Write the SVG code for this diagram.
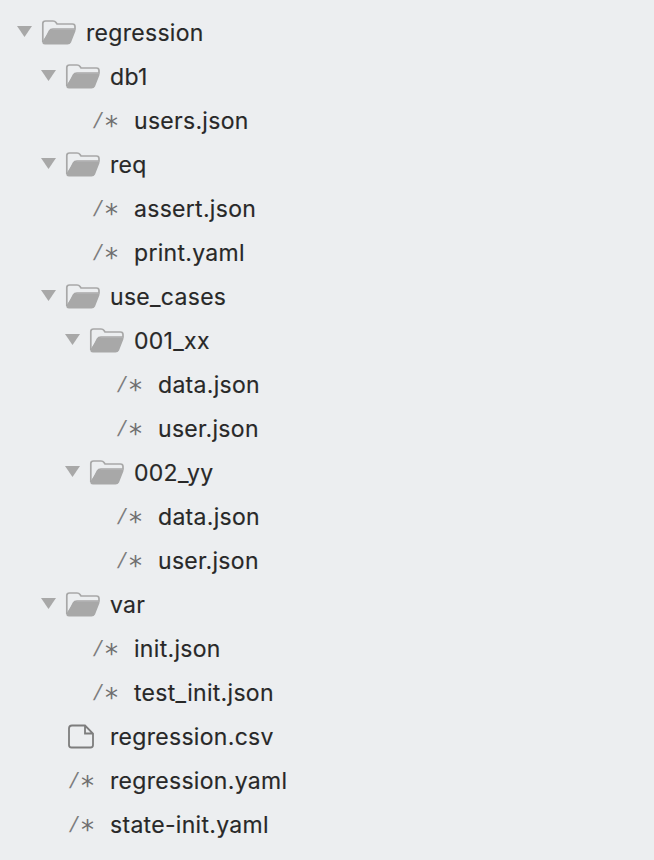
<svg xmlns="http://www.w3.org/2000/svg" xmlns:xlink="http://www.w3.org/1999/xlink" width="654" height="860" viewBox="0 0 654 860">
<style>
.t{font-family:"Inter","Roboto","Liberation Sans",sans-serif;font-size:23px;fill:#282828;letter-spacing:0.3px;stroke:#282828;stroke-width:0.15px}
.s{font-family:"Liberation Sans",sans-serif;font-size:22px;fill:#7d7d7d}
.c{font-family:"DejaVu Sans",sans-serif;font-size:26px;fill:#6f6f6f}
.tri{fill:#a8a8a8}
</style>
<defs>
<g id="folder">
<path d="M0.8 22V3.5Q0.8 1 3.5 1H11Q13 1 14 2.5L15 4H30.5Q33 4 33 6.5V9H11Q8.5 9 7.5 11L2.5 21" fill="none" stroke="#a8a8a8" stroke-width="1.7"/>
<path d="M9.5 9.5H33.5L33.5 11L29 22.5Q28 24.5 25.5 24.500H3Q0.3 24.500 0.3 22L2 19L7.500 11Q8.200 9.500 9.500 9.500Z" fill="#a8a8a8"/>
</g>
<path id="arrow" class="tri" d="M0 0H15L7.5 11Z"/>
<g id="star"><text class="s" transform="translate(-1 15) skewX(-14)">/</text><text class="c" x="11" y="22">*</text></g>
</defs>
<rect width="654" height="860" fill="#eceef0"/>
<g id="connectors"/>
<g id="n-regression"><use xlink:href="#arrow" x="17" y="26"/><use xlink:href="#folder" x="42" y="20"/><text class="t" x="86" y="41">regression</text></g>
<g id="n-db1"><use xlink:href="#arrow" x="41" y="70"/><use xlink:href="#folder" x="66" y="64"/><text class="t" x="110" y="85">db1</text></g>
<g id="n-users"><use xlink:href="#star" x="94" y="113"/><text class="t" x="134" y="129">users.json</text></g>
<g id="n-req"><use xlink:href="#arrow" x="41" y="158"/><use xlink:href="#folder" x="66" y="152"/><text class="t" x="110" y="173">req</text></g>
<g id="n-assert"><use xlink:href="#star" x="94" y="201"/><text class="t" x="134" y="217">assert.json</text></g>
<g id="n-print"><use xlink:href="#star" x="94" y="245"/><text class="t" x="134" y="261">print.yaml</text></g>
<g id="n-use_cases"><use xlink:href="#arrow" x="41" y="290"/><use xlink:href="#folder" x="66" y="284"/><text class="t" x="110" y="305">use_cases</text></g>
<g id="n-001"><use xlink:href="#arrow" x="65" y="334"/><use xlink:href="#folder" x="90" y="328"/><text class="t" x="134" y="349">001_xx</text></g>
<g id="n-data1"><use xlink:href="#star" x="118" y="377"/><text class="t" x="158" y="393">data.json</text></g>
<g id="n-user1"><use xlink:href="#star" x="118" y="421"/><text class="t" x="158" y="437">user.json</text></g>
<g id="n-002"><use xlink:href="#arrow" x="65" y="466"/><use xlink:href="#folder" x="90" y="460"/><text class="t" x="134" y="481">002_yy</text></g>
<g id="n-data2"><use xlink:href="#star" x="118" y="509"/><text class="t" x="158" y="525">data.json</text></g>
<g id="n-user2"><use xlink:href="#star" x="118" y="553"/><text class="t" x="158" y="569">user.json</text></g>
<g id="n-var"><use xlink:href="#arrow" x="41" y="598"/><use xlink:href="#folder" x="66" y="592"/><text class="t" x="110" y="613">var</text></g>
<g id="n-init"><use xlink:href="#star" x="94" y="641"/><text class="t" x="134" y="657">init.json</text></g>
<g id="n-test_init"><use xlink:href="#star" x="94" y="685"/><text class="t" x="134" y="701">test_init.json</text></g>
<g id="n-csv"><path d="M69 728.5Q69 725.5 72 725.5H85L93 733.5V745Q93 747.5 90.500 747.500H71.500Q69 747.500 69 745Z M85 725.500V733.500H93" fill="none" stroke="#7d7d7d" stroke-width="1.800"/><text class="t" x="110" y="745">regression.csv</text></g>
<g id="n-regyaml"><use xlink:href="#star" x="70" y="773"/><text class="t" x="110" y="789">regression.yaml</text></g>
<g id="n-state"><use xlink:href="#star" x="70" y="817"/><text class="t" x="110" y="833">state-init.yaml</text></g>
</svg>
